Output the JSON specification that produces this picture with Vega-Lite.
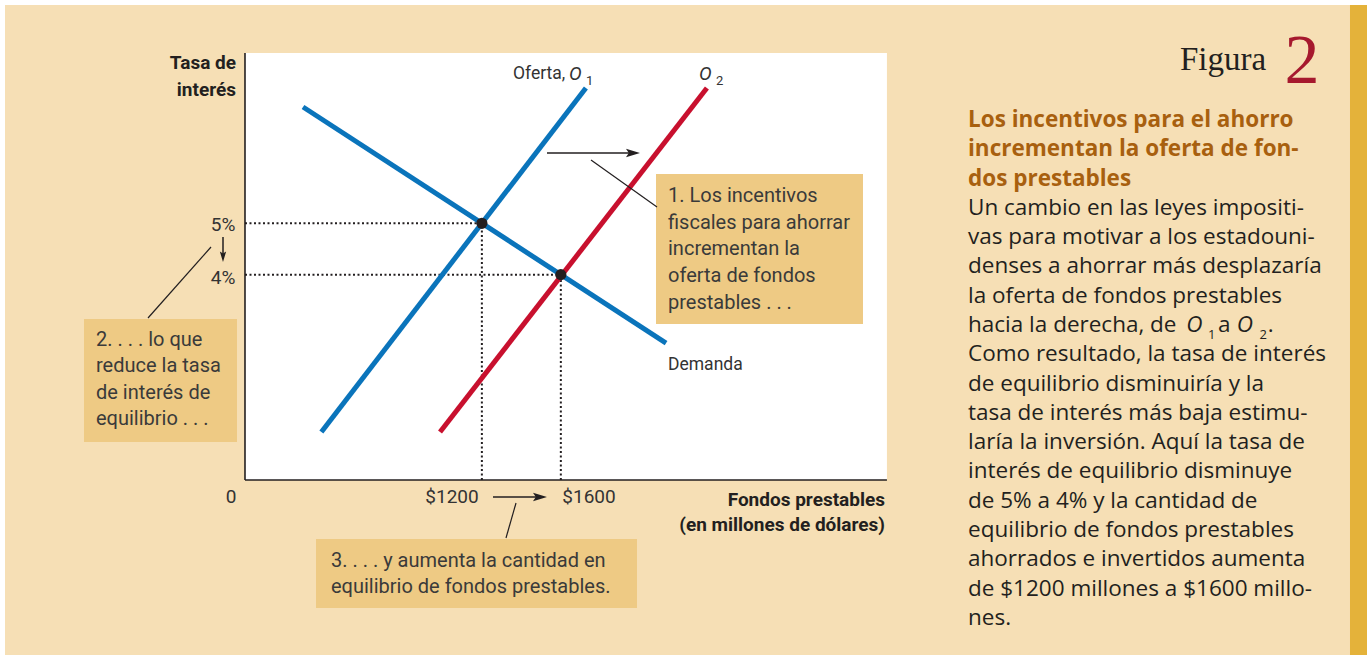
{
  "$schema": "https://vega.github.io/schema/vega-lite/v6.json",
  "padding": 0,
  "spacing": 0,
  "background": "#ffffff",
  "config": {"view": {"stroke": null}},
  "datasets": {
    "panelL": [{"q": -1215.8, "q2": 3596.8, "r": -3.4086, "r2": 9.252}],
    "plot": [{"q": 0, "q2": 3252, "r": 0, "r2": 8.317}],
    "boxes": [
      {"q": 2082.1, "q2": 3130.7, "r": 3.039, "r2": 5.96},
      {"q": -815.6, "q2": -40.5, "r": 0.74, "r2": 3.136},
      {"q": 359.7, "q2": 1985.8, "r": -2.493, "r2": -1.149}
    ],
    "guides": [
      {"q": 0, "q2": 1200, "r": 5, "r2": 5},
      {"q": 0, "q2": 1600, "r": 4, "r2": 4},
      {"q": 1200, "q2": 1200, "r": 0, "r2": 5},
      {"q": 1600, "q2": 1600, "r": 0, "r2": 4}
    ],
    "axes": [
      {"q": 0, "q2": 0, "r": 0, "r2": 8.317},
      {"q": 0, "q2": 3252, "r": 0, "r2": 0}
    ],
    "curves": [
      {"curve": "Demanda", "q": 294, "r": 7.265},
      {"curve": "Demanda", "q": 2133, "r": 2.667},
      {"curve": "Oferta O1", "q": 387, "r": 0.935},
      {"curve": "Oferta O1", "q": 1727, "r": 7.635},
      {"curve": "Oferta O2", "q": 988, "r": 0.935},
      {"curve": "Oferta O2", "q": 2340, "r": 7.635}
    ],
    "equilibria": [{"q": 1200, "r": 5}, {"q": 1600, "r": 4}],
    "shafts": [
      {"q": 1529.9, "q2": 1960.5, "r": 6.369, "r2": 6.369},
      {"q": -111.4, "q2": -111.4, "r": 4.733, "r2": 4.363},
      {"q": 1256.3, "q2": 1494.4, "r": -0.331, "r2": -0.331}
    ],
    "headsRight": [{"q": 2001, "r": 6.369}, {"q": 1529.9, "r": -0.331}],
    "headsDown": [{"q": -111.4, "r": 4.246}],
    "leaders": [
      {"q": 1752.8, "q2": 2087.2, "r": 6.233, "r2": 5.317},
      {"q": -491.4, "q2": -172.2, "r": 3.155, "r2": 4.538},
      {"q": 1322.2, "q2": 1372.9, "r": -1.13, "r2": -0.448}
    ],
    "boxText": [
      {"t": "1. Los incentivos", "q": 2142.9, "r": 5.532},
      {"t": "fiscales para ahorrar", "q": 2142.9, "r": 5.006},
      {"t": "incrementan la", "q": 2142.9, "r": 4.49},
      {"t": "oferta de fondos", "q": 2142.9, "r": 3.974},
      {"t": "prestables . . .", "q": 2142.9, "r": 3.457},
      {"t": "2. . . . lo que", "q": -754.8, "r": 2.727},
      {"t": "reduce la tasa", "q": -754.8, "r": 2.22},
      {"t": "de interés de", "q": -754.8, "r": 1.695},
      {"t": "equilibrio . . .", "q": -754.8, "r": 1.188},
      {"t": "3. . . . y aumenta la cantidad en", "q": 435.7, "r": -1.578},
      {"t": "equilibrio de fondos prestables.", "q": 435.7, "r": -2.084}
    ],
    "tickText": [
      {"t": "5%", "q": -111.4, "r": 4.967},
      {"t": "4%", "q": -111.4, "r": 3.935},
      {"t": "0", "q": -70.9, "r": -0.331},
      {"t": "$1200", "q": 1048.6, "r": -0.331},
      {"t": "$1600", "q": 1742.7, "r": -0.331}
    ],
    "axisTitles": [
      {"t": "Tasa de", "q": -45.6, "r": 8.122},
      {"t": "interés", "q": -45.6, "r": 7.596},
      {"t": "Fondos prestables", "q": 3242.2, "r": -0.39},
      {"t": "(en millones de dólares)", "q": 3242.2, "r": -0.877}
    ],
    "curveText": [
      {"t": "Oferta,", "q": 1357.7, "r": 7.908},
      {"t": "Demanda", "q": 2142.9, "r": 2.24}
    ],
    "curveItalic": [
      {"t": "O", "q": 1641.4, "r": 7.908},
      {"t": "O", "q": 2299.9, "r": 7.908}
    ],
    "curveSub": [
      {"t": "1", "q": 1727.4, "r": 7.77},
      {"t": "2", "q": 2386.1, "r": 7.77}
    ],
    "panelR": [{"x": 0, "x2": 95.87, "line": -3.928, "line2": 18.27}],
    "stripe": [{"x": 95.87, "x2": 100, "line": -3.928, "line2": 18.27}],
    "figura": [{"t": "Figura", "x": 54.61, "line": -1.708}],
    "figNum": [{"t": "2", "x": 84.22, "line": -1.264}],
    "heading": [
      {"t": "Los incentivos para el ahorro", "x": 3.155, "line": 0},
      {"t": "incrementan la oferta de fon-", "x": 3.155, "line": 1},
      {"t": "dos prestables", "x": 3.155, "line": 2}
    ],
    "body": [
      {"t": "Un cambio en las leyes impositi-", "x": 3.155, "line": 3},
      {"t": "vas para motivar a los estadouni-", "x": 3.155, "line": 4},
      {"t": "denses a ahorrar más desplazaría", "x": 3.155, "line": 5},
      {"t": "la oferta de fondos prestables", "x": 3.155, "line": 6},
      {"t": "hacia la derecha, de", "x": 3.155, "line": 7},
      {"t": "a", "x": 63.83, "line": 7},
      {"t": ".", "x": 75.9, "line": 7},
      {"t": "Como resultado, la tasa de interés", "x": 3.155, "line": 8},
      {"t": "de equilibrio disminuiría y la", "x": 3.155, "line": 9},
      {"t": "tasa de interés más baja estimu-", "x": 3.155, "line": 10},
      {"t": "laría la inversión. Aquí la tasa de", "x": 3.155, "line": 11},
      {"t": "interés de equilibrio disminuye", "x": 3.155, "line": 12},
      {"t": "de 5% a 4% y la cantidad de", "x": 3.155, "line": 13},
      {"t": "equilibrio de fondos prestables", "x": 3.155, "line": 14},
      {"t": "ahorrados e invertidos aumenta", "x": 3.155, "line": 15},
      {"t": "de $1200 millones a $1600 millo-", "x": 3.155, "line": 16},
      {"t": "nes.", "x": 3.155, "line": 17}
    ],
    "bodyItalic": [
      {"t": "O", "x": 56.1, "line": 7},
      {"t": "O", "x": 68.4, "line": 7}
    ],
    "bodySub": [
      {"t": "1", "x": 61.4, "line": 7.34},
      {"t": "2", "x": 73.9, "line": 7.34}
    ]
  },
  "hconcat": [
    {
      "width": 955,
      "height": 655,
      "encoding": {
        "x": {"field": "q", "type": "quantitative", "axis": null, "scale": {"domain": [-1241.1, 3596.8], "nice": false, "zero": false}},
        "y": {"field": "r", "type": "quantitative", "axis": null, "scale": {"domain": [-3.4086, 9.3494], "nice": false, "zero": false}}
      },
      "layer": [
        {"data": {"name": "panelL"}, "mark": {"type": "rect", "fill": "#f6dfb5"}, "encoding": {"x2": {"field": "q2"}, "y2": {"field": "r2"}}},
        {"data": {"name": "plot"}, "mark": {"type": "rect", "fill": "#ffffff"}, "encoding": {"x2": {"field": "q2"}, "y2": {"field": "r2"}}},
        {"data": {"name": "boxes"}, "mark": {"type": "rect", "fill": "#eeca84"}, "encoding": {"x2": {"field": "q2"}, "y2": {"field": "r2"}}},
        {"data": {"name": "guides"}, "mark": {"type": "rule", "color": "#231f20", "strokeWidth": 2, "strokeDash": [2, 2.5]}, "encoding": {"x2": {"field": "q2"}, "y2": {"field": "r2"}}},
        {"data": {"name": "axes"}, "mark": {"type": "rule", "color": "#231f20", "strokeWidth": 1.6}, "encoding": {"x2": {"field": "q2"}, "y2": {"field": "r2"}}},
        {"data": {"name": "curves"}, "mark": {"type": "line", "strokeWidth": 5, "strokeCap": "butt"}, "encoding": {"color": {"field": "curve", "type": "nominal", "scale": {"domain": ["Demanda", "Oferta O1", "Oferta O2"], "range": ["#0a74bb", "#0a74bb", "#c8102e"]}, "legend": null}}},
        {"data": {"name": "equilibria"}, "mark": {"type": "point", "shape": "circle", "filled": true, "opacity": 1, "size": 125, "color": "#231f20"}},
        {"data": {"name": "shafts"}, "mark": {"type": "rule", "color": "#231f20", "strokeWidth": 1.5}, "encoding": {"x2": {"field": "q2"}, "y2": {"field": "r2"}}},
        {"data": {"name": "headsRight"}, "mark": {"type": "point", "shape": "M0,0L-2,-0.6L-1.6,0L-2,0.6Z", "filled": true, "opacity": 1, "size": 196, "color": "#231f20", "strokeWidth": 0}},
        {"data": {"name": "headsDown"}, "mark": {"type": "point", "shape": "M0,0L-2,-0.6L-1.6,0L-2,0.6Z", "filled": true, "opacity": 1, "size": 110, "angle": 90, "color": "#231f20", "strokeWidth": 0}},
        {"data": {"name": "leaders"}, "mark": {"type": "rule", "color": "#231f20", "strokeWidth": 1.2}, "encoding": {"x2": {"field": "q2"}, "y2": {"field": "r2"}}},
        {"data": {"name": "boxText"}, "mark": {"type": "text", "align": "left", "baseline": "middle", "font": "Roboto", "fontSize": 20, "color": "#3a3a3a"}, "encoding": {"text": {"field": "t"}}},
        {"data": {"name": "tickText"}, "mark": {"type": "text", "align": "center", "baseline": "middle", "font": "Roboto", "fontSize": 19, "color": "#333333"}, "encoding": {"text": {"field": "t"}}},
        {"data": {"name": "axisTitles"}, "mark": {"type": "text", "align": "right", "baseline": "middle", "font": "Roboto", "fontWeight": "bold", "fontSize": 19, "color": "#231f20"}, "encoding": {"text": {"field": "t"}}},
        {"data": {"name": "curveText"}, "mark": {"type": "text", "align": "left", "baseline": "middle", "font": "Roboto", "fontSize": 17.5, "color": "#333333"}, "encoding": {"text": {"field": "t"}}},
        {"data": {"name": "curveItalic"}, "mark": {"type": "text", "align": "left", "baseline": "middle", "font": "Roboto", "fontStyle": "italic", "fontSize": 19, "color": "#333333"}, "encoding": {"text": {"field": "t"}}},
        {"data": {"name": "curveSub"}, "mark": {"type": "text", "align": "left", "baseline": "middle", "font": "Roboto", "fontSize": 13, "color": "#333333"}, "encoding": {"text": {"field": "t"}}}
      ]
    },
    {
      "width": 412,
      "height": 655,
      "encoding": {
        "x": {"field": "x", "type": "quantitative", "axis": null, "scale": {"domain": [0, 100], "nice": false, "zero": false}},
        "y": {"field": "line", "type": "quantitative", "axis": null, "scale": {"domain": [-4.098, 18.27], "nice": false, "zero": false, "reverse": true}}
      },
      "layer": [
        {"data": {"name": "panelR"}, "mark": {"type": "rect", "fill": "#f6dfb5"}, "encoding": {"x2": {"field": "x2"}, "y2": {"field": "line2"}}},
        {"data": {"name": "stripe"}, "mark": {"type": "rect", "fill": "#e4b23a"}, "encoding": {"x2": {"field": "x2"}, "y2": {"field": "line2"}}},
        {"data": {"name": "figura"}, "mark": {"type": "text", "align": "left", "baseline": "alphabetic", "font": "Liberation Serif", "fontSize": 33, "color": "#231f20"}, "encoding": {"text": {"field": "t"}}},
        {"data": {"name": "figNum"}, "mark": {"type": "text", "align": "center", "baseline": "alphabetic", "font": "Liberation Serif", "fontSize": 70, "color": "#a6192e"}, "encoding": {"text": {"field": "t"}}},
        {"data": {"name": "heading"}, "mark": {"type": "text", "align": "left", "baseline": "middle", "font": "Open Sans", "fontWeight": "bold", "fontSize": 22.5, "color": "#a8600f"}, "encoding": {"text": {"field": "t"}}},
        {"data": {"name": "body"}, "mark": {"type": "text", "align": "left", "baseline": "middle", "font": "Open Sans", "fontSize": 22.5, "color": "#231f20"}, "encoding": {"text": {"field": "t"}}},
        {"data": {"name": "bodyItalic"}, "mark": {"type": "text", "align": "left", "baseline": "middle", "font": "Open Sans", "fontStyle": "italic", "fontSize": 22.5, "color": "#231f20"}, "encoding": {"text": {"field": "t"}}},
        {"data": {"name": "bodySub"}, "mark": {"type": "text", "align": "left", "baseline": "middle", "font": "Open Sans", "fontSize": 13, "color": "#231f20"}, "encoding": {"text": {"field": "t"}}}
      ]
    }
  ]
}
